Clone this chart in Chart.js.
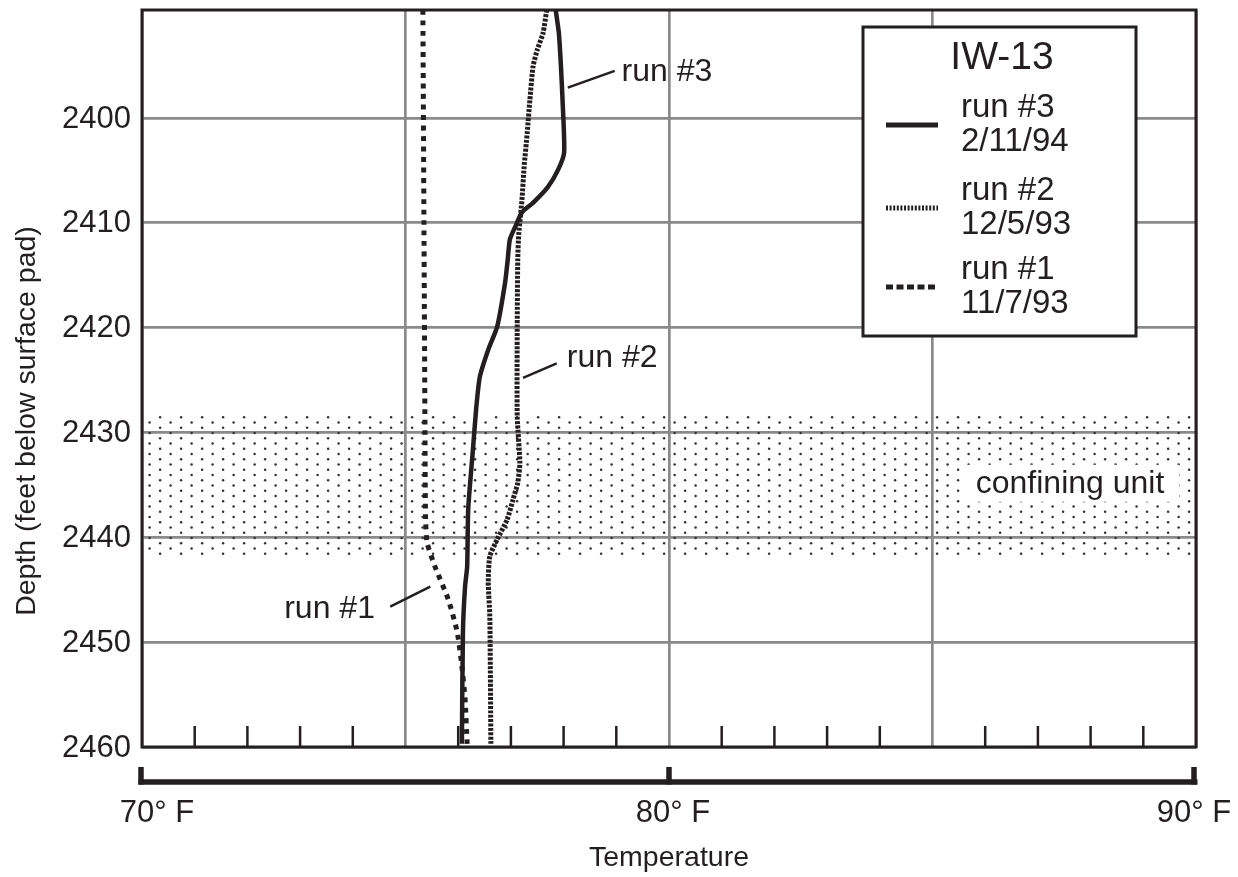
<!DOCTYPE html>
<html>
<head>
<meta charset="utf-8">
<script src="https://cdn.jsdelivr.net/npm/chart.js@4/dist/chart.umd.min.js"></script>
<style>
  html, body { margin: 0; padding: 0; background: #fff; }
  #wrap { width: 1238px; height: 877px; }
</style>
</head>
<body>
<div id="wrap"><canvas id="chart" width="1238" height="877"></canvas></div>
<script>
// depth axis (feet below surface pad), reversed: shallow at top
const depthTop = 2389.7;
const depthBottom = 2460;
const depthTicks = [2400, 2410, 2420, 2430, 2440, 2450, 2460];

// temperature axis (deg F)
const tempMin = 70;
const tempMax = 90;
const tempLabelValues = [70, 80, 90];
const tempLabels = ["70\u00b0 F", "80\u00b0 F", "90\u00b0 F"];

// confining unit depth band
const confiningTop = 2428.3;
const confiningBottom = 2441.7;

// run #3 2/11/94
const run3Depth = [2389.7, 2391.9, 2395.1, 2398.3, 2403.3, 2405.0, 2406.6, 2408.1, 2409.0, 2410.4, 2411.6,
                   2413.5, 2415.7, 2419.9, 2422.1, 2424.7, 2427.8, 2431.6, 2437.3, 2442.8, 2444.7, 2449.0, 2459.7];
const run3Temp  = [77.85, 77.91, 77.95, 77.98, 78.01, 77.89, 77.70, 77.42, 77.21, 77.08, 76.98,
                   76.94, 76.89, 76.74, 76.57, 76.41, 76.34, 76.28, 76.19, 76.17, 76.13, 76.09, 76.07];

// run #2 12/5/93
const run2Depth = [2389.7, 2391.9, 2393.5, 2395.1, 2398.3, 2401.4, 2404.7, 2407.8, 2411.0, 2413.5, 2419.9,
                   2428.5, 2432.9, 2434.8, 2436.4, 2438.3, 2440.2, 2441.8, 2444.3, 2447.5, 2459.7];
const run2Temp  = [77.68, 77.61, 77.50, 77.42, 77.36, 77.31, 77.25, 77.21, 77.15, 77.13, 77.12,
                   77.12, 77.17, 77.13, 77.04, 76.93, 76.74, 76.60, 76.57, 76.60, 76.62];

// run #1 11/7/93
const run1Depth = [2389.7, 2410, 2430, 2438, 2440.5, 2442.8, 2445.9, 2449.0, 2452.3, 2455.4, 2459.7];
const run1Temp  = [75.33, 75.35, 75.37, 75.38, 75.41, 75.56, 75.81, 75.98, 76.07, 76.13, 76.17];

const ink = "#231f20";
const FONT = '"Liberation Sans", Arial, Helvetica, sans-serif';

const toPoints = (temps, depths) => depths.map((d, i) => ({ x: temps[i], y: d }));

// call-out labels next to the curves (data units)
const callouts = [
  { text: "run #3", from: [78.08, 2397.1], to: [78.97, 2395.5], at: [79.1, 2395.6], align: "left" },
  { text: "run #2", from: [77.23, 2424.8], to: [77.87, 2423.4], at: [78.06, 2422.9], align: "left" },
  { text: "run #1", from: [74.71, 2446.6], to: [75.47, 2444.7], at: [74.42, 2446.9], align: "right" }
];

// staggered dot texture for the confining unit
function dotTile() {
  const c = document.createElement("canvas");
  c.width = 21; c.height = 21;
  const g = c.getContext("2d");
  g.fillStyle = "#333";
  for (let k = 0; k < 4; k++) {
    const y = k * 5.25 + 2.6;
    const x = (k % 2) * 10.5 + 2.6;
    g.beginPath();
    g.arc(x, y, 1.25, 0, Math.PI * 2);
    g.fill();
  }
  return c;
}

const overlay = {
  id: "overlay",
  beforeDatasetsDraw(chart) {
    const { ctx, chartArea: a, scales: { y } } = chart;
    const y0 = y.getPixelForValue(confiningTop);
    const y1 = y.getPixelForValue(confiningBottom);
    ctx.save();
    ctx.fillStyle = ctx.createPattern(dotTile(), "repeat");
    ctx.fillRect(a.left, y0, a.right - a.left, y1 - y0);
    ctx.restore();
  },
  afterDraw(chart) {
    const { ctx, chartArea: a, scales: { x, y } } = chart;
    ctx.save();

    // plot frame
    ctx.strokeStyle = ink;
    ctx.lineWidth = 3;
    ctx.strokeRect(a.left, a.top, a.right - a.left, a.bottom - a.top);

    // minor degree ticks along the bottom
    ctx.lineWidth = 2.5;
    for (let t = tempMin + 1; t < tempMax; t++) {
      if (t % 5 === 0) continue;
      const px = x.getPixelForValue(t);
      ctx.beginPath();
      ctx.moveTo(px, a.bottom);
      ctx.lineTo(px, a.bottom - 21);
      ctx.stroke();
    }

    // depth labels
    ctx.fillStyle = ink;
    ctx.font = "31px " + FONT;
    ctx.textAlign = "right";
    ctx.textBaseline = "middle";
    depthTicks.forEach(d => ctx.fillText(String(d), a.left - 11, y.getPixelForValue(d) + 1));

    // separate temperature bar below the plot
    const barY = a.bottom + 35;
    ctx.lineWidth = 5.5;
    ctx.beginPath();
    ctx.moveTo(x.getPixelForValue(tempMin) - 3.5, barY);
    ctx.lineTo(x.getPixelForValue(tempMax) + 1.5, barY);
    ctx.stroke();
    tempLabelValues.forEach((t, i) => {
      let px = x.getPixelForValue(t);
      if (i === 0) px -= 1;
      if (i === tempLabelValues.length - 1) px -= 2;
      ctx.beginPath();
      ctx.moveTo(px, barY + 2.5);
      ctx.lineTo(px, barY - 15);
      ctx.stroke();
    });
    ctx.textAlign = "center";
    ctx.textBaseline = "middle";
    tempLabels.forEach((lab, i) => {
      let px = x.getPixelForValue(tempLabelValues[i]);
      if (i === 0) px += 15;
      if (i === 1) px += 4;
      if (i === 2) px -= 2;
      ctx.fillText(lab, px, barY + 31);
    });

    // axis titles
    ctx.font = "28.5px " + FONT;
    ctx.fillText("Temperature", (a.left + a.right) / 2, 858);
    ctx.save();
    ctx.translate(27, 421);
    ctx.rotate(-Math.PI / 2);
    ctx.fillText("Depth (feet below surface pad)", 0, 0);
    ctx.restore();

    // call-outs
    ctx.font = "32px " + FONT;
    ctx.lineWidth = 2.5;
    callouts.forEach(c => {
      ctx.beginPath();
      ctx.moveTo(x.getPixelForValue(c.from[0]), y.getPixelForValue(c.from[1]));
      ctx.lineTo(x.getPixelForValue(c.to[0]), y.getPixelForValue(c.to[1]));
      ctx.stroke();
      ctx.textAlign = c.align;
      ctx.fillText(c.text, x.getPixelForValue(c.at[0]), y.getPixelForValue(c.at[1]));
    });

    // confining unit label on a white patch
    ctx.font = "32px " + FONT;
    ctx.textAlign = "center";
    const cx = x.getPixelForValue(87.61);
    const cy = y.getPixelForValue(2434.8);
    const w = ctx.measureText("confining unit").width + 30;
    ctx.fillStyle = "#fff";
    ctx.fillRect(cx - w / 2, cy - 18, w, 37);
    ctx.fillStyle = ink;
    ctx.fillText("confining unit", cx, cy + 1);

    // legend box
    const L = { left: 863, top: 27, right: 1136, bottom: 336 };
    ctx.fillStyle = "#fff";
    ctx.fillRect(L.left, L.top, L.right - L.left, L.bottom - L.top);
    ctx.lineWidth = 3;
    ctx.strokeRect(L.left, L.top, L.right - L.left, L.bottom - L.top);
    ctx.fillStyle = ink;
    ctx.font = "39px " + FONT;
    ctx.textAlign = "center";
    ctx.fillText("IW-13", 1002, 58);
    ctx.font = "33px " + FONT;
    ctx.textAlign = "left";
    const rows = [125, 208, 287];
    chart.data.datasets.forEach((ds, i) => {
      const ry = rows[i];
      ctx.save();
      ctx.strokeStyle = ds.borderColor;
      ctx.lineWidth = ds.legendWidth;
      ctx.setLineDash(ds.legendDash);
      ctx.beginPath();
      ctx.moveTo(886, ry);
      ctx.lineTo(938, ry);
      ctx.stroke();
      ctx.restore();
      ctx.fillText(ds.label, 961, ry - 17);
      ctx.fillText(ds.date, 961, ry + 17);
    });

    ctx.restore();
  }
};

new Chart(document.getElementById("chart"), {
  type: "line",
  data: {
    datasets: [
      { label: "run #3", date: "2/11/94", data: toPoints(run3Temp, run3Depth),
        borderColor: ink, borderWidth: 4.5, borderDash: [], legendDash: [], legendWidth: 5 },
      { label: "run #2", date: "12/5/93", data: toPoints(run2Temp, run2Depth),
        borderColor: ink, borderWidth: 5, borderDash: [3, 1.4], legendDash: [2, 1.6], legendWidth: 5 },
      { label: "run #1", date: "11/7/93", data: toPoints(run1Temp, run1Depth),
        borderColor: ink, borderWidth: 5, borderDash: [5, 5.5], legendDash: [7, 3.5], legendWidth: 5 }
    ]
  },
  options: {
    responsive: false,
    animation: false,
    layout: { padding: { left: 142, right: 42, top: 10, bottom: 130 } },
    elements: {
      point: { radius: 0 },
      line: { tension: 0.2, fill: false, borderCapStyle: "butt" }
    },
    plugins: { legend: { display: false }, tooltip: { enabled: false } },
    scales: {
      x: {
        type: "linear", min: tempMin, max: tempMax,
        ticks: { display: false, stepSize: 5 },
        grid: { color: "#8a8a8a", lineWidth: 2.7, drawTicks: false },
        border: { display: false }
      },
      y: {
        type: "linear", min: depthTop, max: depthBottom, reverse: true,
        afterBuildTicks: s => { s.ticks = depthTicks.map(v => ({ value: v })); },
        ticks: { display: false },
        grid: { color: "#8a8a8a", lineWidth: 2.7, drawTicks: false },
        border: { display: false }
      }
    }
  },
  plugins: [overlay]
});
</script>
</body>
</html>
